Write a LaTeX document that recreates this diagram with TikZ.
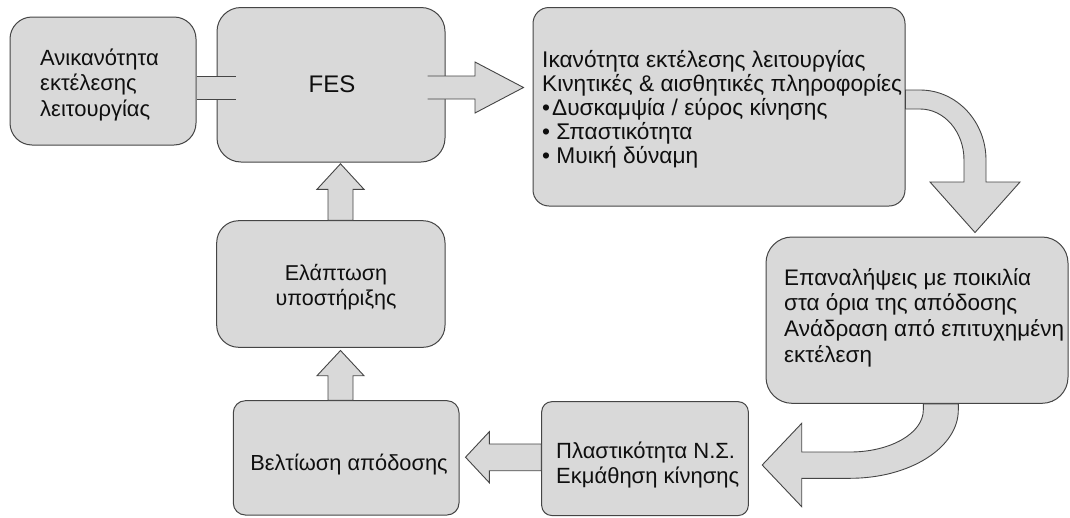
\documentclass[tikz,border=0pt]{standalone}
\usepackage{fontspec}
\setmainfont{Liberation Sans}
\usetikzlibrary{calc}
\definecolor{boxfill}{HTML}{D9D9D9}
\definecolor{edgec}{HTML}{454545}
\definecolor{txtc}{HTML}{0F0F0F}
\newcommand\TxtL[2]{\vtop{\baselineskip=#1\lineskiplimit=-100pt\halign{##\hfil\cr#2\crcr}}}
\newcommand\TxtC[2]{\vtop{\baselineskip=#1\lineskiplimit=-100pt\halign{\hfil##\hfil\cr#2\crcr}}}
\newcommand\fs[1]{\fontsize{#1}{#1}\selectfont}
\tikzset{
  box/.style={draw=edgec, fill=boxfill, line width=1pt, rounded corners=#1, inner sep=0pt},
  blockarrow/.style={draw=edgec, fill=boxfill, line width=0.9pt, line join=miter},
  arrowfill/.style={fill=boxfill},
  arrowline/.style={draw=edgec, line width=0.9pt, line join=miter},
  label/.style={inner sep=0pt, text=txtc},
}
\begin{document}
\begin{tikzpicture}[x=1pt,y=-1pt]
\useasboundingbox (0,0) rectangle (1070,517);
% boxes
\node[box=22pt, minimum width=186pt, minimum height=128pt] (A) at (103,81) {};
\node[box=24pt, minimum width=228pt, minimum height=154.5pt] (FES) at (331,84.75) {};
\node[box=16pt, minimum width=372pt, minimum height=198.5pt] (C) at (719,106.75) {};
\node[box=26pt, minimum width=302pt, minimum height=166.3pt] (D) at (917,320.15) {};
\node[box=10pt, minimum width=206.6pt, minimum height=113.8pt] (E) at (645,458.6) {};
\node[box=12pt, minimum width=225.7pt, minimum height=114.3pt] (F) at (346.15,457.85) {};
\node[box=22pt, minimum width=228.3pt, minimum height=126.6pt] (B) at (330.85,284) {};
% texts
\node[label, font=\fs{22}, anchor=base west] (tA) at (40,65) {\TxtL{25.5pt}{Ανικανότητα\cr εκτέλεσης\cr λειτουργίας}};
\node[label, font=\fs{24}, anchor=base] (tFES) at (332,92) {FES};
\node[label, font=\fs{22.7}, anchor=base west] (tC) at (542,67) {\TxtL{24pt}{Ικανότητα εκτέλεσης λειτουργίας\cr Κινητικές \& αισθητικές πληροφορίες\cr •\hspace{2pt}Δυσκαμψία / εύρος κίνησης\cr • Σπαστικότητα\cr • Μυική δύναμη}};
\node[label, font=\fs{22.5}, anchor=base west] (tD) at (784,285) {\TxtL{25.7pt}{Επαναλήψεις με ποικιλία\cr στα όρια της απόδοσης\cr Ανάδραση από επιτυχημένη\cr εκτέλεση}};
\node[label, font=\fs{22}, anchor=base west] (tE) at (556,458.3) {\TxtL{25pt}{Πλαστικότητα Ν.Σ.\cr Εκμάθηση κίνησης}};
\node[label, font=\fs{21.8}, anchor=base] (tF) at (349,470) {Βελτίωση απόδοσης};
\node[label, font=\fs{21.5}, anchor=base] (tB) at (336,280.7) {\TxtC{24.3pt}{Ελάπτωση\cr υποστήριξης}};
% A -> FES band (drawn over FES)
\fill[arrowfill] (A.east |- 0,76) rectangle ($(FES.west |- 0,99)+(19,0)$);
\draw[arrowline] (A.east |- 0,76) -- ($(FES.west |- 0,76)+(19,0)$)
                 (A.east |- 0,99) -- ($(FES.west |- 0,99)+(19,0)$);
% FES -> C
\fill[arrowfill] ($(FES.east |- 0,76)+(-18,0)$) -- (475,76) -- (475,62) -- ($(C.west |- 0,87.5)+(-9,0)$) -- (475,113) -- (475,99) -- ($(FES.east |- 0,99)+(-18,0)$) -- cycle;
\draw[arrowline] ($(FES.east |- 0,76)+(-18,0)$) -- (475,76) -- (475,62) -- ($(C.west |- 0,87.5)+(-9,0)$) -- (475,113) -- (475,99) -- ($(FES.east |- 0,99)+(-18,0)$);
% C -> D curved
\draw[blockarrow] (C.east |- 0,90) -- (920,90) .. controls (956.5,90) and (986,121.3) .. (986,160) -- (986,182) -- (1020,182) -- ($(D.north -| 975,0)+(0,-4)$) -- (930,182) -- (964,182) -- (964,160) .. controls (964,131.8) and (944.3,109) .. (920,109) -- (C.east |- 0,109) -- cycle;
% D -> E curved
\draw[blockarrow] (923.3,0 |- D.south) -- (923.3,410) .. controls (923.3,433.2) and (890.5,452) .. (850,452) -- (801.7,452) -- (801.7,423.3) -- ($(E.east |- 0,465)+(13.4,0)$) -- (801.7,506.7) -- (801.7,478.3) -- (850,478.3) .. controls (909.8,478.3) and (958.3,447.7) .. (958.3,410) -- (958.3,0 |- D.south) -- cycle;
% E -> F
\draw[blockarrow] (E.west |- 0,444) -- (489.3,444) -- (489.3,431.7) -- ($(F.east |- 0,457.2)+(6,0)$) -- (489.3,482.7) -- (489.3,470.7) -- (E.west |- 0,470.7) -- cycle;
% F -> B
\draw[blockarrow] (328,0 |- F.north) -- (328,375.7) -- (317,375.7) -- ($(B.south -| 340.5,0)+(0,2.7)$) -- (364,375.7) -- (353,375.7) -- (353,0 |- F.north) -- cycle;
% B -> FES
\draw[blockarrow] (328,0 |- B.north) -- (328,189.3) -- (317,189.3) -- ($(FES.south -| 340.5,0)+(0,1.3)$) -- (364,189.3) -- (353,189.3) -- (353,0 |- B.north) -- cycle;
\end{tikzpicture}
\end{document}
